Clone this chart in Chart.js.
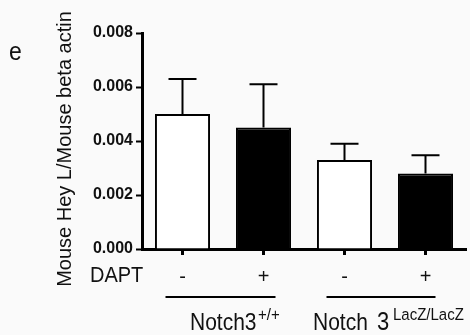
<!DOCTYPE html>
<html>
<head>
<meta charset="utf-8">
<script src="https://cdn.jsdelivr.net/npm/chart.js@4/dist/chart.umd.min.js"></script>
<style>
  html,body{margin:0;padding:0;background:#fafafa;}
  #wrap{width:470px;height:335px;position:relative;}
</style>
</head>
<body>
<div id="wrap"><canvas id="heyChart" width="470" height="335"></canvas></div>
<script>
// Hey L expression relative to beta actin, +/- DAPT, per genotype
const dapt = ['-', '+', '-', '+'];
const means = [0.0050, 0.0045, 0.0033, 0.0028];
const sem = [0.0013, 0.0016, 0.0006, 0.00067];
const fills = ['#ffffff', '#000000', '#ffffff', '#000000'];
const yTicks = [0, 0.002, 0.004, 0.006, 0.008];

const FONT = '"Liberation Sans", Arial, sans-serif';

// draws upward-only error bars on top of each bar
const errorBars = {
  id: 'errorBars',
  afterDatasetsDraw(chart){
    const ctx = chart.ctx;
    const y = chart.scales.y;
    const meta = chart.getDatasetMeta(0);
    ctx.save();
    ctx.strokeStyle = '#000';
    ctx.lineWidth = 2;
    meta.data.forEach((bar, i)=>{
      const top = y.getPixelForValue(means[i] + sem[i]);
      ctx.beginPath();
      ctx.moveTo(bar.x, bar.y);
      ctx.lineTo(bar.x, top);
      ctx.moveTo(bar.x - 14, top);
      ctx.lineTo(bar.x + 14, top);
      ctx.stroke();
    });
    ctx.restore();
  }
};

// text drawn a little taller than wide, like the reference lettering
function tallText(ctx, txt, x, y, size, sy){
  ctx.save();
  ctx.translate(x, y);
  ctx.scale(1, sy || 1.1);
  ctx.font = size + 'px ' + FONT;
  ctx.fillText(txt, 0, 0);
  ctx.restore();
}

// panel letter, y title, DAPT row label and genotype groups
const annotations = {
  id: 'annotations',
  afterDraw(chart){
    const ctx = chart.ctx;
    const x = chart.scales.x;
    ctx.save();
    ctx.fillStyle = '#111';
    ctx.textBaseline = 'alphabetic';
    ctx.textAlign = 'left';

    tallText(ctx, 'e', 9, 60, 23);

    // y axis title
    ctx.save();
    ctx.translate(71, 149);
    ctx.rotate(-Math.PI/2);
    ctx.textAlign = 'center';
    ctx.font = '20px ' + FONT;
    ctx.fillText('Mouse Hey L/Mouse beta actin', 0, 0);
    ctx.restore();

    tallText(ctx, 'DAPT', 90, 282, 20);

    // group underlines
    ctx.strokeStyle = '#000';
    ctx.lineWidth = 2;
    ctx.beginPath();
    ctx.moveTo(x.getPixelForValue(0) - 17, 297);
    ctx.lineTo(x.getPixelForValue(1) + 12, 297);
    ctx.moveTo(x.getPixelForValue(2) - 18, 297);
    ctx.lineTo(x.getPixelForValue(3) + 10, 297);
    ctx.stroke();

    // genotype labels with superscripts
    tallText(ctx, 'Notch3', 190, 330, 21, 1.15);
    tallText(ctx, '+/+', 258, 320, 15);
    tallText(ctx, 'Notch', 313, 330, 21, 1.15);
    tallText(ctx, '3', 377, 330, 22, 1.15);
    tallText(ctx, 'LacZ/LacZ', 393, 320, 15);
    ctx.restore();
  }
};

new Chart(document.getElementById('heyChart'), {
  type: 'bar',
  data: {
    labels: dapt,
    datasets: [{
      data: means,
      backgroundColor: fills,
      borderColor: '#000',
      borderWidth: 2,
      barPercentage: 0.68,
      categoryPercentage: 1
    }]
  },
  options: {
    responsive: false,
    animation: false,
    layout: {padding: {top: 33, right: 4, left: 0, bottom: 0}},
    plugins: {legend: {display: false}, tooltip: {enabled: false}},
    scales: {
      x: {
        afterFit(s){ s.height = 86; },
        border: {display: true, color: '#000', width: 3},
        grid: {offset: false, drawOnChartArea: false, color: '#000', tickLength: 6, tickWidth: 3},
        ticks: {color: '#111', padding: 10, font: {family: FONT, size: 20}}
      },
      y: {
        min: 0,
        max: 0.008,
        afterFit(s){ s.width = 142; },
        afterBuildTicks(s){ s.ticks = yTicks.map(v=>({value: v})); },
        border: {display: true, color: '#000', width: 3},
        grid: {drawOnChartArea: false, color: '#000', tickLength: 6, tickWidth: 2},
        ticks: {
          color: '#111',
          padding: 3,
          font: {family: FONT, size: 16, weight: 'bold'},
          callback: v => v.toFixed(3)
        }
      }
    }
  },
  plugins: [errorBars, annotations]
});
</script>
</body>
</html>
